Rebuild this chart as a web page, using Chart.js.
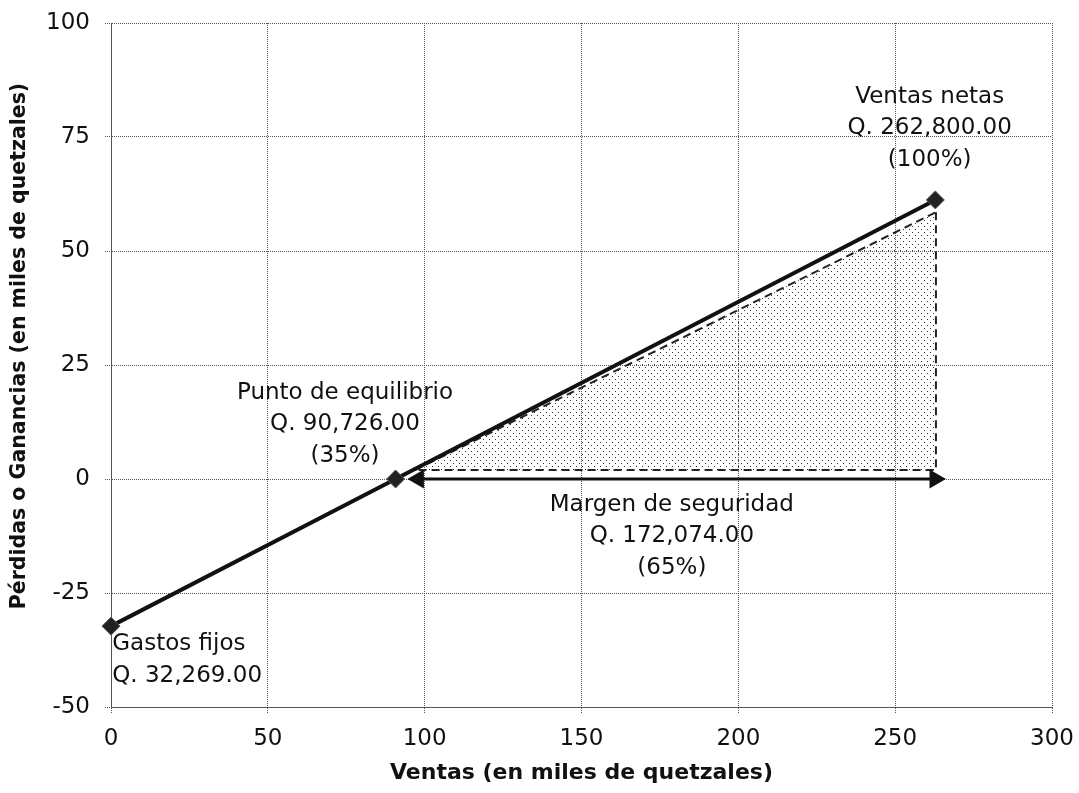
<!DOCTYPE html>
<html>
<head>
<meta charset="utf-8">
<script src="https://cdn.jsdelivr.net/npm/chart.js@4.4.0/dist/chart.umd.min.js"></script>
<style>
  html, body { margin: 0; padding: 0; background: #fff; }
  canvas { display: block; }
</style>
</head>
<body>
<canvas id="grafica" width="1079" height="793"></canvas>
<script>
// datos (miles de quetzales)
const ventas = [0, 90.726, 262.8];
const resultado = [-32.269, 0, 61.2];
const margenX = [97, 263];
const margenY = [2, 58.5];
const bordeX = [263, 263, 97];
const bordeY = [58.5, 2, 2];
const flechaX = [98, 262.7];
const flechaY = [0, 0];
const ticksX = [0, 50, 100, 150, 200, 250, 300];
const ticksY = [-50, -25, 0, 25, 50, 75, 100];

const textoVentas = ["Ventas netas", "Q. 262,800.00", "(100%)"];
const textoEquilibrio = ["Punto de equilibrio", "Q. 90,726.00", "(35%)"];
const textoMargen = ["Margen de seguridad", "Q. 172,074.00", "(65%)"];
const textoGastos = ["Gastos fijos", "Q. 32,269.00"];

const tituloX = "Ventas (en miles de quetzales)";
const tituloY = "Pérdidas o Ganancias (en miles de quetzales)";

const pares = (xs, ys) => xs.map((x, i) => ({ x: x, y: ys[i] }));

// trama de puntos para el area sombreada
const tile = document.createElement("canvas");
tile.width = 6;
tile.height = 6;
const tc = tile.getContext("2d");
tc.fillStyle = "#333";
tc.fillRect(0, 4, 1, 1);
tc.fillRect(3, 1, 1, 1);
const trama = tc.createPattern(tile, "repeat");

Chart.defaults.font.family = "'DejaVu Sans', sans-serif";
Chart.defaults.font.size = 23;
Chart.defaults.color = "#111";

const anotaciones = {
  id: "anotaciones",
  afterDatasetsDraw(chart) {
    const { ctx, scales } = chart;
    const etiquetas = [
      { lineas: textoVentas, x: 261, y: 83.8, align: "center" },
      { lineas: textoEquilibrio, x: 74.6, y: 18.9, align: "center" },
      { lineas: textoMargen, x: 178.8, y: -5.7, align: "center" },
      { lineas: textoGastos, x: 0.4, y: -36.2, align: "left" },
    ];
    ctx.save();
    ctx.fillStyle = "#111";
    ctx.font = "23px 'DejaVu Sans'";
    ctx.textBaseline = "middle";
    etiquetas.forEach((e) => {
      const px = scales.x.getPixelForValue(e.x);
      const py = scales.y.getPixelForValue(e.y);
      ctx.textAlign = e.align;
      e.lineas.forEach((l, i) => ctx.fillText(l, px, py + i * 31.5));
    });
    // titulo del eje y
    ctx.translate(20, 346);
    ctx.rotate(-Math.PI / 2);
    ctx.textAlign = "center";
    ctx.font = "bold 20.5px 'DejaVu Sans'";
    ctx.fillText(tituloY, 0, 0);
    ctx.restore();
  },
};

const rejilla = {
  color: "#555",
  lineWidth: 1,
  borderDash: [1, 1],
  tickLength: 6,
  tickBorderDash: [1, 1],
  tickColor: "#555",
};

// quitar el relleno automatico de las etiquetas para fijar el area
const sinRelleno = (s) => {
  s.paddingTop = 0;
  s.paddingBottom = 0;
  s.paddingLeft = 0;
  s.paddingRight = 0;
};

new Chart(document.getElementById("grafica"), {
  type: "line",
  data: {
    datasets: [
      {
        data: pares(ventas, resultado),
        borderColor: "#111",
        borderWidth: 4,
        pointStyle: "rectRot",
        pointRadius: 9,
        pointBackgroundColor: "#222",
        pointBorderColor: "#555",
        pointBorderWidth: 1,
        fill: false,
        clip: false,
      },
      {
        data: pares(flechaX, flechaY),
        borderColor: "#111",
        borderWidth: 3,
        pointStyle: "triangle",
        pointRotation: [-90, 90],
        pointRadius: 8,
        pointBackgroundColor: "#111",
        pointBorderColor: "#111",
        fill: false,
      },
      {
        data: pares(margenX, margenY),
        borderColor: "#222",
        borderWidth: 2,
        borderDash: [8, 5],
        pointRadius: 0,
        backgroundColor: trama,
        fill: { value: 2 },
      },
      {
        data: pares(bordeX, bordeY),
        borderColor: "#222",
        borderWidth: 2,
        borderDash: [8, 5],
        pointRadius: 0,
        fill: false,
      },
    ],
  },
  options: {
    responsive: false,
    animation: false,
    layout: { padding: { top: 23, right: 27, left: 0, bottom: 0 } },
    plugins: { legend: { display: false }, tooltip: { enabled: false } },
    scales: {
      x: {
        type: "linear",
        min: 0,
        max: 300,
        afterBuildTicks: (s) => { s.ticks = ticksX.map((v) => ({ value: v })); },
        afterFit: (s) => { s.height = 86; sinRelleno(s); },
        grid: rejilla,
        border: { color: "#555", dash: [1, 1] },
        ticks: { padding: 12, color: "#111" },
        title: {
          display: true,
          text: tituloX,
          font: { size: 22, weight: "bold" },
          color: "#111",
          padding: { top: 0, bottom: 7 },
        },
      },
      y: {
        type: "linear",
        min: -50,
        max: 100,
        afterBuildTicks: (s) => { s.ticks = ticksY.map((v) => ({ value: v })); },
        afterFit: (s) => { s.width = 111; sinRelleno(s); },
        grid: rejilla,
        border: { color: "#555", dash: [1, 1] },
        ticks: { padding: 15, color: "#111" },
      },
    },
  },
  plugins: [anotaciones],
});
</script>
</body>
</html>
